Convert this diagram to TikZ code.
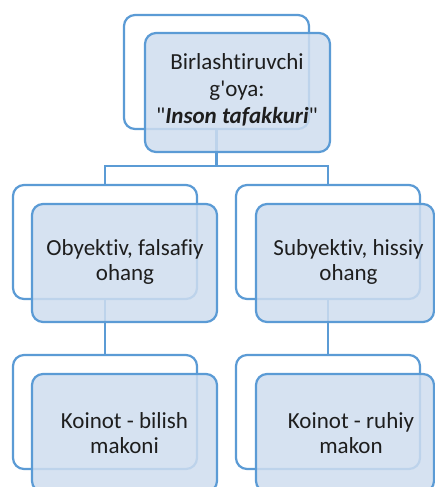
\documentclass[tikz,border=0pt]{standalone}
\usepackage{fontspec}
\setmainfont{Carlito}[Ligatures={TeXOff,CommonOff}]
\definecolor{edge}{RGB}{91,155,213}
\definecolor{boxfill}{RGB}{207,221,239}
\definecolor{ink}{RGB}{30,30,30}
\tikzset{
  backframe/.style={draw=edge, line width=2.2pt, rounded corners=11pt, fill=white, anchor=north west, inner sep=0pt, outer sep=0pt},
  frontbox/.style={draw=edge, line width=2.2pt, rounded corners=11pt, fill=boxfill, fill opacity=0.85, anchor=north west, inner sep=0pt, outer sep=0pt},
  link/.style={draw=edge, line width=2.2pt},
  lbl/.style={align=center, text=ink, inner sep=0pt, font=\fontsize{23}{24.5}\selectfont},
  toplbl/.style={lbl, font=\fontsize{23}{26.8}\selectfont}
}
\begin{document}
\begin{tikzpicture}[x=1pt,y=-1pt]
\clip (0,0) rectangle (435,487);
\fill[white] (0,0) rectangle (435,487);
% back frames
\node[backframe, minimum width=185pt, minimum height=114pt] (b0) at (124,15) {};
\node[backframe, minimum width=184pt, minimum height=114pt] (b1) at (13,185) {};
\node[backframe, minimum width=184pt, minimum height=114pt] (b2) at (236,185) {};
\node[backframe, minimum width=184pt, minimum height=114pt] (b3) at (13,355) {};
\node[backframe, minimum width=184pt, minimum height=114pt] (b4) at (236,355) {};
% connectors
\coordinate (j0) at ([yshift=-37pt]b0.south);
\draw[link] (b0.south) -- (j0);
\draw[link] (b1.north) |- (j0) -| (b2.north);
\draw[link] (b1.south) -- (b3.north);
\draw[link] (b2.south) -- (b4.north);
% front boxes
\node[frontbox, minimum width=185pt, minimum height=119pt] (f0) at (145,33) {};
\node[frontbox, minimum width=185pt, minimum height=118pt] (f1) at (32,204) {};
\node[frontbox, minimum width=178pt, minimum height=118pt] (f2) at (256,204) {};
\node[frontbox, minimum width=185pt, minimum height=118pt] (f3) at (32,374) {};
\node[frontbox, minimum width=178pt, minimum height=118pt] (f4) at (256,374) {};
% labels
\node[toplbl] (t0) at (237,90) {Birlashtiruvchi\\g'oya:\\"\textbf{\textit{Inson tafakkuri}}"};
\node[lbl] (t1) at (125,262) {Obyektiv, falsafiy\\ohang};
\node[lbl] (t2) at (348.5,262) {Subyektiv, hissiy\\ohang};
\node[lbl] (t3) at (124.5,433) {Koinot - bilish\\makoni};
\node[lbl] (t4) at (351,433) {Koinot - ruhiy\\makon};
\end{tikzpicture}
\end{document}
